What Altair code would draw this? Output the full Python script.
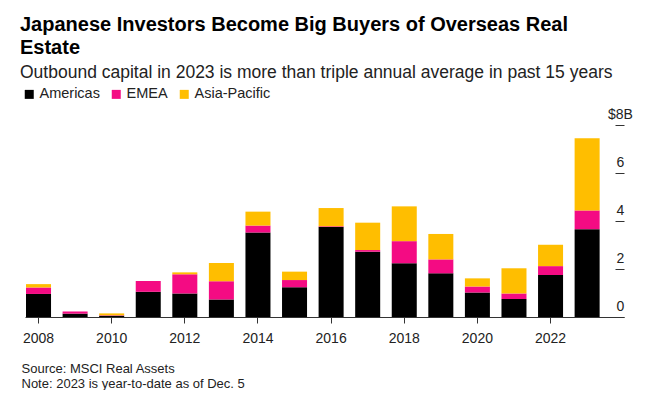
import altair as alt
import pandas as pd

years = list(range(2008, 2024))
americas = [0.96, 0.14, 0.05, 1.05, 0.98, 0.73, 3.52, 1.24, 3.75, 2.72, 2.24, 1.82, 1.02, 0.75, 1.75, 3.66]
emea = [0.27, 0.09, 0.02, 0.45, 0.80, 0.76, 0.29, 0.30, 0.03, 0.07, 0.92, 0.58, 0.25, 0.23, 0.37, 0.78]
asia_pacific = [0.14, 0.0, 0.08, 0.0, 0.08, 0.76, 0.58, 0.35, 0.76, 1.14, 1.45, 1.06, 0.34, 1.05, 0.89, 3.01]
regions = ["Americas", "EMEA", "Asia-Pacific"]
colors = ["#000000", "#f40b83", "#ffbe00"]
x_tick_years = [2008, 2010, 2012, 2014, 2016, 2018, 2020, 2022]
y_ticks = [0, 2, 4, 6, 8]

title_lines = ["Japanese Investors Become Big Buyers of Overseas Real", "Estate"]
subtitle = "Outbound capital in 2023 is more than triple annual average in past 15 years"
footer = ["Source: MSCI Real Assets", "Note: 2023 is year-to-date as of Dec. 5"]

rows = []
for i, yr in enumerate(years):
    for k, (name, vals) in enumerate(zip(regions, [americas, emea, asia_pacific])):
        rows.append({"year": yr, "region": name, "value": vals[i], "order": k})
df = pd.DataFrame(rows)

FONT = "Liberation Sans"

chart = alt.Chart(df).mark_bar().encode(
    x=alt.X(
        "year:O",
        scale=alt.Scale(paddingInner=0.316, paddingOuter=0.347, align=0.04),
        axis=alt.Axis(
            values=x_tick_years, labelAngle=0, tickSize=6, labelPadding=8,
            domainColor="#333", tickColor="#333", labelColor="#222",
            labelFontSize=14, labelFont=FONT,
            title=footer, titleAnchor="start", titleAlign="left",
            titleX=-4, titleY=55, titleBaseline="alphabetic",
            titleFontWeight="normal", titleFontSize=13, titleLineHeight=15,
            titleColor="#222", titleFont=FONT,
        ),
    ),
    y=alt.Y(
        "value:Q", stack="zero",
        scale=alt.Scale(domain=[0, 8], nice=False),
        axis=alt.Axis(
            orient="right", offset=-9, values=y_ticks, tickSize=9,
            labelPadding=-4, labelAlign="center", labelBaseline="alphabetic",
            labelOffset=-7, domain=False, grid=False, title=None,
            tickColor="#333", labelColor="#222", labelFontSize=14, labelFont=FONT,
            labelExpr="datum.value == 8 ? '$8B' : datum.label",
        ),
    ),
    color=alt.Color(
        "region:N",
        scale=alt.Scale(domain=regions, range=colors),
        legend=alt.Legend(
            orient="none", legendX=-3, legendY=-38, direction="horizontal",
            title=None, symbolType="square", symbolSize=81, symbolStrokeWidth=0,
            labelFontSize=14.5, labelFont=FONT, labelColor="#222", labelOffset=3,
            columnPadding=9, symbolOpacity=1,
        ),
    ),
    order=alt.Order("order:Q"),
).properties(
    width=599,
    height=192,
    padding={"left": 17, "top": 117, "right": 34, "bottom": 73},
    autosize=alt.AutoSizeParams(type="none"),
    title=alt.TitleParams(
        text=title_lines, subtitle=subtitle, anchor="start", frame="group",
        dx=-5, font=FONT, fontSize=20, fontWeight="bold", lineHeight=23,
        color="#000", subtitleFont=FONT, subtitleFontSize=17.5,
        subtitleColor="#222", subtitlePadding=6, offset=6,
    ),
).configure_view(stroke=None)

chart.save("out.html", embed_options={"renderer": "svg", "actions": False})
